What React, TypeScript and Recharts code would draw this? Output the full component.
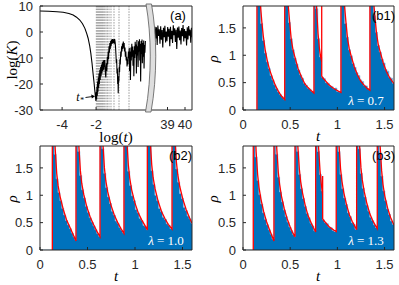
import React from 'react';
import { ComposedChart, Line, Area, XAxis, YAxis, ReferenceLine } from 'recharts';

const SANS = '"Liberation Sans", Arial, Helvetica, sans-serif';
const SERIF = '"Liberation Serif", "Times New Roman", serif';
const AXIS = '#262626';
const BLUE = '#0072bd';
const RED = '#ff0000';

// ---- panel (a): log(K) against log(t), broken axis ----
const A_YTICKS = [-30, -20, -10, 0, 10];
const A_XTICKS_LEFT = [-4, -2];
const A_XTICKS_RIGHT = [39, 40];
// dotted marks at the revival times
const A_MARKS = [-1.986, -1.928, -1.869, -1.81, -1.751, -1.692, -1.633, -1.575, -1.496, -1.418, -1.339, -1.241, -1.124, -0.947, -0.653, -0.065];

const A_EARLY: [number, number][] = [
  [-5.3, 8.1], [-4.8, 8.0], [-4.3, 7.8], [-3.94, 7.6], [-3.6, 7.1], [-3.35, 6.5], [-3.15, 5.7], [-2.96, 4.6],
  [-2.8, 3.2], [-2.66, 1.4], [-2.55, -0.6], [-2.47, -2.4], [-2.38, -5.2], [-2.31, -8.2], [-2.24, -12], [-2.18, -15.9],
  [-2.12, -19.5], [-2.08, -22.3], [-2.04, -25], [-2.01, -26.5],
  [-1.99, -23], [-1.97, -26], [-1.95, -21], [-1.93, -24.5], [-1.91, -19], [-1.89, -23], [-1.87, -17.5], [-1.85, -21.5],
  [-1.83, -16], [-1.81, -20], [-1.78, -14.5], [-1.76, -18.5], [-1.73, -13.5], [-1.71, -17], [-1.68, -12.5], [-1.66, -16],
  [-1.63, -11.5], [-1.61, -15], [-1.58, -11], [-1.56, -14.5], [-1.53, -10.8], [-1.51, -13.5], [-1.49, -10.8], [-1.47, -14],
  [-1.45, -16], [-1.43, -17.5], [-1.41, -14], [-1.39, -12], [-1.37, -15], [-1.34, -9.5], [-1.32, -12.5], [-1.29, -7.5],
  [-1.27, -10.5], [-1.24, -5.5], [-1.22, -8], [-1.19, -4.2], [-1.17, -6.5], [-1.14, -3.4], [-1.12, -5.5], [-1.09, -2.9],
  [-1.06, -4.6], [-1.03, -2.7], [-1.0, -4.2], [-0.97, -2.8], [-0.94, -4.5], [-0.91, -2.7], [-0.88, -4], [-0.86, -5.5],
  [-0.83, -9], [-0.81, -12], [-0.79, -10.5], [-0.77, -16], [-0.75, -14], [-0.73, -20], [-0.71, -18], [-0.7, -23.6],
  [-0.68, -17], [-0.66, -19], [-0.64, -13.5], [-0.62, -15.5], [-0.6, -10.5], [-0.58, -12.5], [-0.55, -7.5], [-0.53, -9.5],
  [-0.5, -5.5], [-0.48, -7.5], [-0.45, -4.4], [-0.43, -6.5], [-0.4, -3.7], [-0.38, -6], [-0.35, -4.2], [-0.33, -7.5],
  [-0.3, -6], [-0.28, -9.5], [-0.25, -7.5], [-0.23, -11], [-0.2, -9.5], [-0.18, -13.3], [-0.15, -10.5], [-0.13, -12.5],
  [-0.1, -7.5], [-0.08, -10], [-0.05, -6.2], [-0.03, -15], [0.0, -7.5], [0.02, -18.5], [0.05, -6], [0.07, -11],
  [0.1, -4.5], [0.12, -9.5], [0.15, -5.6], [0.17, -13], [0.2, -7], [0.22, -17], [0.25, -5.5], [0.27, -10],
  [0.3, -3.8], [0.32, -8.5], [0.35, -4.8], [0.37, -16], [0.4, -3.1], [0.42, -9], [0.45, -5.5], [0.47, -13.5],
  [0.5, -3.6], [0.52, -7.5], [0.55, -2.8], [0.57, -11], [0.6, -4.5], [0.62, -19], [0.65, -3.5], [0.67, -8.5],
  [0.7, -2.9], [0.72, -12], [0.75, -4.2], [0.77, -9.5], [0.8, -3.3], [0.82, -14], [0.85, -5], [0.87, -8], [0.9, -3.5],
];

const A_LATE: [number, number][] = [
  [38.02, -1], [38.05, 1.5], [38.09, -4], [38.13, 2.8], [38.17, -3], [38.21, 0.5], [38.25, -8], [38.29, 2],
  [38.33, -2.5], [38.37, 1.8], [38.41, -5], [38.45, 2.5], [38.49, -1.5], [38.53, 1.0], [38.57, -4.5], [38.61, 2.2],
  [38.65, -3], [38.69, 0.8], [38.73, -6], [38.77, 1.6], [38.81, -2], [38.85, 2.4], [38.89, -4], [38.93, 0.2],
  [38.97, -3.5], [39.01, 1.9], [39.05, -1.8], [39.09, 1.2], [39.13, -5.5], [39.17, 2.0], [39.21, -2.8], [39.25, 0.5],
  [39.29, -4.2], [39.33, 2.6], [39.37, -1.2], [39.41, 1.4], [39.45, -3.8], [39.49, 0.9], [39.53, -6.5], [39.57, 1.7],
  [39.61, -2.2], [39.65, 2.1], [39.69, -3.2], [39.73, 0.6], [39.77, -4.8], [39.81, 1.5], [39.85, -1.6], [39.89, 2.7],
  [39.93, -3.6], [39.97, 1.1], [40.01, -2.4], [40.05, 0.4], [40.09, -5.2], [40.13, 1.8], [40.17, -2.9], [40.21, 2.3],
  [40.25, -1.4], [40.29, 0.9], [40.33, -4.1], [40.37, 1.6], [40.4, -2],
];

// ---- panels (b): density rho(t), red = theory, blue = histogram ----
const RHO_TICKS = [0, 0.5, 1, 1.5];
const T_TICKS = [0, 0.5, 1, 1.5];

const B1_RED: [number, number][] = [
  [0.148, 0], [0.148, 5], [0.158, 3.4], [0.168, 2.6], [0.178, 2.15], [0.188, 1.85], [0.2, 1.6], [0.215, 1.35], [0.235, 1.1],
  [0.26, 0.88], [0.285, 0.72], [0.315, 0.57], [0.345, 0.44], [0.375, 0.34], [0.405, 0.26], [0.442, 0.19],
  [0.442, 5], [0.452, 3.4], [0.462, 2.6], [0.472, 2.15], [0.48, 1.9], [0.495, 1.59], [0.512, 1.28], [0.53, 1.1],
  [0.548, 0.98], [0.583, 0.76], [0.618, 0.61], [0.654, 0.48], [0.689, 0.41], [0.724, 0.35], [0.752, 0.31],
  [0.752, 5], [0.762, 3.2], [0.772, 2.3], [0.782, 1.8], [0.795, 1.4], [0.81, 1.12], [0.822, 0.98], [0.834, 0.88],
  [0.834, 5], [0.834, 0.62], [0.85, 0.58], [0.87, 0.54], [0.905, 0.47], [0.94, 0.42], [0.975, 0.38], [1.01, 0.345], [1.038, 0.32],
  [1.038, 5], [1.048, 3.4], [1.058, 2.6], [1.068, 2.15], [1.076, 1.9], [1.091, 1.6], [1.108, 1.3], [1.126, 1.12],
  [1.144, 1.0], [1.179, 0.79], [1.214, 0.64], [1.25, 0.52], [1.285, 0.45], [1.32, 0.39], [1.345, 0.36],
  [1.345, 5], [1.355, 3.5], [1.365, 2.7], [1.375, 2.25], [1.383, 2.0], [1.398, 1.7], [1.415, 1.4], [1.433, 1.2],
  [1.451, 1.08], [1.486, 0.86], [1.521, 0.7], [1.557, 0.58], [1.6, 0.48],
];
const B1_HIST: [number, number][] = [
  [0, 0],
  [0.148, 3.0], [0.168, 2.0], [0.188, 1.58], [0.208, 1.27], [0.228, 1.04], [0.248, 0.88], [0.268, 0.76], [0.288, 0.63],
  [0.308, 0.55], [0.328, 0.46], [0.348, 0.39], [0.368, 0.33], [0.388, 0.28], [0.408, 0.24], [0.428, 0.2],
  [0.442, 3.0], [0.462, 2.0], [0.482, 1.6], [0.502, 1.3], [0.522, 1.1], [0.542, 0.95], [0.562, 0.84], [0.582, 0.73],
  [0.602, 0.64], [0.622, 0.58], [0.642, 0.49], [0.662, 0.45], [0.682, 0.4], [0.702, 0.38], [0.722, 0.34], [0.742, 0.32],
  [0.752, 3.0], [0.772, 1.85], [0.792, 1.3], [0.812, 0.97],
  [0.834, 0.6], [0.854, 0.57], [0.874, 0.5], [0.894, 0.49], [0.914, 0.44], [0.934, 0.43], [0.954, 0.39], [0.974, 0.4],
  [0.994, 0.34], [1.014, 0.33],
  [1.038, 3.0], [1.058, 2.0], [1.078, 1.58], [1.098, 1.33], [1.118, 1.1], [1.138, 0.99], [1.158, 0.85], [1.178, 0.78],
  [1.198, 0.68], [1.218, 0.63], [1.238, 0.55], [1.258, 0.52], [1.278, 0.45], [1.298, 0.44], [1.318, 0.39], [1.338, 0.37],
  [1.345, 3.0], [1.365, 2.1], [1.385, 1.72], [1.405, 1.42], [1.425, 1.18], [1.445, 1.06], [1.465, 0.93], [1.485, 0.86],
  [1.505, 0.74], [1.525, 0.71], [1.545, 0.6], [1.565, 0.58], [1.585, 0.49], [1.6, 0.49],
];

const B2_RED: [number, number][] = [
  [0.13, 0], [0.13, 5], [0.138, 3.2], [0.148, 2.3], [0.16, 1.85], [0.176, 1.4], [0.19, 1.18], [0.211, 0.98], [0.245, 0.74],
  [0.28, 0.55], [0.316, 0.41], [0.35, 0.28], [0.379, 0.165],
  [0.379, 5], [0.387, 3.3], [0.397, 2.4], [0.409, 1.9], [0.425, 1.45], [0.439, 1.22], [0.46, 1.02], [0.494, 0.78],
  [0.529, 0.6], [0.565, 0.46], [0.599, 0.34], [0.632, 0.24],
  [0.632, 5], [0.64, 3.3], [0.65, 2.4], [0.662, 1.95], [0.678, 1.5], [0.692, 1.27], [0.713, 1.06], [0.747, 0.82],
  [0.782, 0.64], [0.818, 0.5], [0.852, 0.39], [0.884, 0.3],
  [0.884, 5], [0.892, 3.4], [0.902, 2.5], [0.914, 2.0], [0.93, 1.55], [0.944, 1.32], [0.965, 1.1], [0.999, 0.86],
  [1.034, 0.68], [1.07, 0.55], [1.104, 0.45], [1.13, 0.366],
  [1.13, 5], [1.138, 3.4], [1.148, 2.5], [1.16, 2.0], [1.176, 1.56], [1.19, 1.33], [1.211, 1.12], [1.245, 0.88],
  [1.28, 0.7], [1.316, 0.57], [1.35, 0.47], [1.39, 0.38],
  [1.39, 5], [1.398, 3.4], [1.408, 2.5], [1.42, 2.05], [1.436, 1.6], [1.45, 1.38], [1.471, 1.16], [1.505, 0.92],
  [1.54, 0.73], [1.576, 0.58], [1.6, 0.49],
];
const B2_HIST: [number, number][] = [
  [0, 0],
  [0.13, 2.8], [0.15, 1.75], [0.17, 1.3], [0.19, 1.05], [0.21, 0.9], [0.23, 0.76], [0.25, 0.64], [0.27, 0.54],
  [0.29, 0.46], [0.31, 0.39], [0.33, 0.31], [0.35, 0.24], [0.37, 0.18],
  [0.379, 2.8], [0.399, 1.8], [0.419, 1.36], [0.439, 1.1], [0.459, 0.95], [0.479, 0.8], [0.499, 0.69], [0.519, 0.59],
  [0.539, 0.51], [0.559, 0.44], [0.579, 0.37], [0.599, 0.3], [0.619, 0.25],
  [0.632, 2.8], [0.652, 1.85], [0.672, 1.4], [0.692, 1.14], [0.712, 0.97], [0.732, 0.85], [0.752, 0.71], [0.772, 0.64],
  [0.792, 0.53], [0.812, 0.49], [0.832, 0.41], [0.852, 0.36], [0.872, 0.31],
  [0.884, 2.8], [0.904, 1.9], [0.924, 1.44], [0.944, 1.18], [0.964, 0.99], [0.984, 0.9], [1.004, 0.74], [1.024, 0.68],
  [1.044, 0.58], [1.064, 0.54], [1.084, 0.45], [1.104, 0.43], [1.124, 0.37],
  [1.13, 2.8], [1.15, 1.9], [1.17, 1.45], [1.19, 1.2], [1.21, 1.0], [1.23, 0.9], [1.25, 0.76], [1.27, 0.7],
  [1.29, 0.6], [1.31, 0.56], [1.33, 0.48], [1.35, 0.45], [1.37, 0.39],
  [1.39, 2.8], [1.41, 1.95], [1.43, 1.48], [1.45, 1.24], [1.47, 1.03], [1.49, 0.94], [1.51, 0.78], [1.53, 0.72],
  [1.55, 0.62], [1.57, 0.57], [1.59, 0.49], [1.6, 0.49],
];

const B3_RED: [number, number][] = [
  [0.109, 0], [0.109, 5], [0.117, 3.2], [0.127, 2.3], [0.139, 1.8], [0.155, 1.38], [0.169, 1.15], [0.189, 0.94],
  [0.219, 0.7], [0.249, 0.52], [0.279, 0.38], [0.304, 0.27], [0.328, 0.165],
  [0.328, 5], [0.336, 3.3], [0.346, 2.35], [0.358, 1.85], [0.374, 1.42], [0.388, 1.2], [0.408, 0.98], [0.438, 0.75],
  [0.468, 0.57], [0.498, 0.43], [0.523, 0.33], [0.551, 0.24],
  [0.551, 5], [0.559, 3.3], [0.569, 2.4], [0.581, 1.9], [0.597, 1.48], [0.611, 1.25], [0.631, 1.04], [0.661, 0.8],
  [0.691, 0.62], [0.721, 0.5], [0.746, 0.41], [0.77, 0.33],
  [0.77, 5], [0.778, 3.3], [0.788, 2.4], [0.8, 1.9], [0.816, 1.45], [0.83, 1.2], [0.844, 1.0],
  [0.844, 1.35], [0.844, 0.57], [0.86, 0.53], [0.88, 0.49], [0.91, 0.43], [0.94, 0.39], [0.965, 0.36], [0.988, 0.335],
  [0.988, 5], [0.996, 3.3], [1.006, 2.4], [1.018, 1.9], [1.034, 1.48], [1.048, 1.26], [1.068, 1.05], [1.098, 0.82],
  [1.128, 0.64], [1.158, 0.52], [1.183, 0.44], [1.204, 0.37],
  [1.204, 5], [1.212, 3.35], [1.222, 2.45], [1.234, 1.95], [1.25, 1.5], [1.264, 1.28], [1.284, 1.07], [1.314, 0.84],
  [1.344, 0.66], [1.374, 0.54], [1.399, 0.46], [1.423, 0.39],
  [1.423, 5], [1.431, 3.3], [1.441, 2.4], [1.453, 1.9], [1.469, 1.45], [1.483, 1.2], [1.503, 0.98], [1.533, 0.76],
  [1.563, 0.6], [1.593, 0.48], [1.6, 0.46],
];
const B3_HIST: [number, number][] = [
  [0, 0],
  [0.109, 2.8], [0.129, 1.7], [0.149, 1.27], [0.169, 1.01], [0.189, 0.84], [0.209, 0.68], [0.229, 0.56], [0.249, 0.46],
  [0.269, 0.37], [0.289, 0.29], [0.309, 0.2],
  [0.328, 2.8], [0.348, 1.75], [0.368, 1.33], [0.388, 1.06], [0.408, 0.88], [0.428, 0.73], [0.448, 0.61], [0.468, 0.51],
  [0.488, 0.42], [0.508, 0.35], [0.528, 0.28], [0.548, 0.24],
  [0.551, 2.8], [0.571, 1.8], [0.591, 1.38], [0.611, 1.12], [0.631, 0.94], [0.651, 0.8], [0.671, 0.67], [0.691, 0.59],
  [0.711, 0.49], [0.731, 0.44], [0.751, 0.35],
  [0.77, 2.8], [0.79, 1.8], [0.81, 1.38], [0.83, 1.08],
  [0.844, 0.55], [0.864, 0.5], [0.884, 0.48], [0.904, 0.42], [0.924, 0.41], [0.944, 0.36], [0.964, 0.34],
  [0.988, 2.8], [1.008, 1.8], [1.028, 1.38], [1.048, 1.12], [1.068, 0.95], [1.088, 0.83], [1.108, 0.68], [1.128, 0.61],
  [1.148, 0.5], [1.168, 0.47], [1.188, 0.38],
  [1.204, 2.8], [1.224, 1.85], [1.244, 1.4], [1.264, 1.13], [1.284, 0.97], [1.304, 0.82], [1.324, 0.71], [1.344, 0.6],
  [1.364, 0.54], [1.384, 0.46], [1.404, 0.41],
  [1.423, 2.8], [1.443, 1.78], [1.463, 1.35], [1.483, 1.08], [1.503, 0.9], [1.523, 0.75], [1.543, 0.65], [1.563, 0.53],
  [1.583, 0.47], [1.6, 0.47],
];

const toRows = (pairs: [number, number][]) => pairs.map(([x, y]) => ({ x, y }));

// ticks point inwards, MATLAB style
const axisBase = {
  stroke: AXIS,
  tickSize: -3,
  allowDataOverflow: true,
  interval: 0 as const,
};
const X_MARGIN = 13;
const Y_MARGIN = 10;
const tickFont = { fontSize: 13, fontFamily: SANS, fill: AXIS };

function PanelA() {
  const early = toRows(A_EARLY);
  const late = toRows(A_LATE);
  const leftDomain: [number, number] = [-5.3, 1.17];
  const rightDomain: [number, number] = [38.0, 40.4];
  return (
    <>
      <div style={{ position: 'absolute', left: 0, top: 0 }}>
        <ComposedChart width={150} height={140} margin={{ top: 5, right: 0, bottom: 0, left: 0 }}>
          <XAxis dataKey="x" type="number" domain={leftDomain} ticks={A_XTICKS_LEFT} height={30} tick={tickFont} tickMargin={X_MARGIN} {...axisBase} />
          <XAxis xAxisId="top" orientation="top" dataKey="x" type="number" domain={leftDomain} ticks={A_XTICKS_LEFT} height={1} tick={false} {...axisBase} />
          <YAxis type="number" domain={[-30, 10]} ticks={A_YTICKS} width={40} tick={tickFont} tickMargin={Y_MARGIN} {...axisBase} />
          {A_MARKS.map((v) => (
            <ReferenceLine key={v} x={v} stroke="#6e6e6e" strokeWidth={0.7} strokeDasharray="1.5 1.2" />
          ))}
          <Line data={early} dataKey="y" type="linear" stroke="#000" strokeWidth={1.1} dot={false} isAnimationActive={false} />
        </ComposedChart>
      </div>
      <div style={{ position: 'absolute', left: 150, top: 0 }}>
        <ComposedChart width={49} height={140} margin={{ top: 5, right: 6, bottom: 0, left: 0 }}>
          <XAxis dataKey="x" type="number" domain={rightDomain} ticks={A_XTICKS_RIGHT} height={30} tick={tickFont} tickMargin={X_MARGIN} {...axisBase} />
          <XAxis xAxisId="top" orientation="top" dataKey="x" type="number" domain={rightDomain} ticks={A_XTICKS_RIGHT} height={1} tick={false} {...axisBase} />
          <YAxis orientation="right" type="number" domain={[-30, 10]} ticks={A_YTICKS} width={1} tick={false} {...axisBase} />
          <Line data={late} dataKey="y" type="linear" stroke="#000" strokeWidth={1.1} dot={false} isAnimationActive={false} />
        </ComposedChart>
      </div>
    </>
  );
}

interface PanelBProps {
  left: number;
  top: number;
  height: number;
  plotLeft: number;
  plotRight: number;
  bottomSpace: number;
  red: [number, number][];
  hist: [number, number][];
}

function PanelB({ left, top, height, plotLeft, plotRight, bottomSpace, red, hist }: PanelBProps) {
  const dom: [number, number] = [0, 1.6];
  const ydom: [number, number] = [0, 1.9];
  return (
    <div style={{ position: 'absolute', left, top }}>
      <ComposedChart width={199} height={height} margin={{ top: 5, right: 199 - plotRight - 1, bottom: 0, left: 0 }}>
        <XAxis dataKey="x" type="number" domain={dom} ticks={T_TICKS} height={bottomSpace} tick={tickFont} tickMargin={X_MARGIN} {...axisBase} />
        <XAxis xAxisId="top" orientation="top" dataKey="x" type="number" domain={dom} ticks={T_TICKS} height={1} tick={false} {...axisBase} />
        <YAxis type="number" domain={ydom} ticks={RHO_TICKS} width={plotLeft} tick={tickFont} tickMargin={Y_MARGIN} {...axisBase} />
        <YAxis yAxisId="r" orientation="right" type="number" domain={ydom} ticks={RHO_TICKS} width={1} tick={false} {...axisBase} />
        <Area
          data={toRows(hist)}
          dataKey="y"
          type="stepAfter"
          fill={BLUE}
          fillOpacity={1}
          stroke="#8dbde6"
          strokeWidth={0.8}
          dot={false}
          activeDot={false}
          isAnimationActive={false}
        />
        <Line data={toRows(red)} dataKey="y" type="linear" stroke={RED} strokeWidth={1.3} dot={false} isAnimationActive={false} />
      </ComposedChart>
    </div>
  );
}

function Overlay() {
  const lab = { fontFamily: SERIF, fontSize: 15, fill: '#000' };
  const tag = { fontFamily: SANS, fontSize: 13, fill: '#000' };
  const lam = { fontFamily: SERIF, fontSize: 13, fill: '#fff' };
  return (
    <svg width={399} height={285} style={{ position: 'absolute', left: 0, top: 0, pointerEvents: 'none' }}>
      {/* axis break */}
      <path d="M146,4 C151.5,35 152,76 145.5,112 L151,112 C157.5,76 157,35 151.5,4 Z" fill="#dedede" stroke="#6a6a6a" strokeWidth={0.9} />

      {/* panel (a) */}
      <text x={12} y={60} transform="rotate(-90 12 60)" textAnchor="middle" dominantBaseline="central" {...lab}>
        log(<tspan fontStyle="italic">K</tspan>)
      </text>
      <text x={116} y={137} textAnchor="middle" dominantBaseline="central" {...lab}>
        log(<tspan fontStyle="italic">t</tspan>)
      </text>
      <text x={178} y={15} textAnchor="middle" dominantBaseline="central" {...tag}>(a)</text>
      <text x={80} y={101} textAnchor="middle" fontFamily={SERIF} fontSize={12} fontStyle="italic">
        t<tspan fontSize={8} dy={2}>*</tspan>
      </text>
      <line x1={85.5} y1={97.5} x2={92} y2={96.6} stroke="#000" strokeWidth={0.9} />
      <path d="M95,96.2 L91.2,94.6 L91.8,98.4 Z" fill="#000" />

      {/* panel (b1) */}
      <text x={213} y={59} transform="rotate(-90 213 59)" textAnchor="middle" dominantBaseline="central" {...lab} fontStyle="italic">ρ</text>
      <text x={318} y={136} textAnchor="middle" dominantBaseline="central" {...lab} fontStyle="italic">t</text>
      <text x={395} y={15} textAnchor="end" dominantBaseline="central" {...tag}>(b1)</text>
      <text x={366} y={100} textAnchor="middle" dominantBaseline="central" {...lam}>
        <tspan fontStyle="italic">λ</tspan> = 0.7
      </text>

      {/* panel (b2) */}
      <text x={12} y={199} transform="rotate(-90 12 199)" textAnchor="middle" dominantBaseline="central" {...lab} fontStyle="italic">ρ</text>
      <text x={116} y={276} textAnchor="middle" dominantBaseline="central" {...lab} fontStyle="italic">t</text>
      <text x={192} y={155} textAnchor="end" dominantBaseline="central" {...tag}>(b2)</text>
      <text x={166} y={240} textAnchor="middle" dominantBaseline="central" {...lam}>
        <tspan fontStyle="italic">λ</tspan> = 1.0
      </text>

      {/* panel (b3) */}
      <text x={213} y={199} transform="rotate(-90 213 199)" textAnchor="middle" dominantBaseline="central" {...lab} fontStyle="italic">ρ</text>
      <text x={318} y={276} textAnchor="middle" dominantBaseline="central" {...lab} fontStyle="italic">t</text>
      <text x={395} y={155} textAnchor="end" dominantBaseline="central" {...tag}>(b3)</text>
      <text x={366} y={240} textAnchor="middle" dominantBaseline="central" {...lam}>
        <tspan fontStyle="italic">λ</tspan> = 1.3
      </text>
    </svg>
  );
}

export default function App() {
  return (
    <div style={{ position: 'absolute', left: 0, top: 0, width: 399, height: 285, background: '#fff', overflow: 'hidden' }}>
      <PanelA />
      <PanelB left={200} top={0} height={140} plotLeft={43} plotRight={194} bottomSpace={30} red={B1_RED} hist={B1_HIST} />
      <PanelB left={0} top={140} height={145} plotLeft={40} plotRight={192} bottomSpace={35} red={B2_RED} hist={B2_HIST} />
      <PanelB left={200} top={140} height={145} plotLeft={43} plotRight={194} bottomSpace={35} red={B3_RED} hist={B3_HIST} />
      <Overlay />
    </div>
  );
}
